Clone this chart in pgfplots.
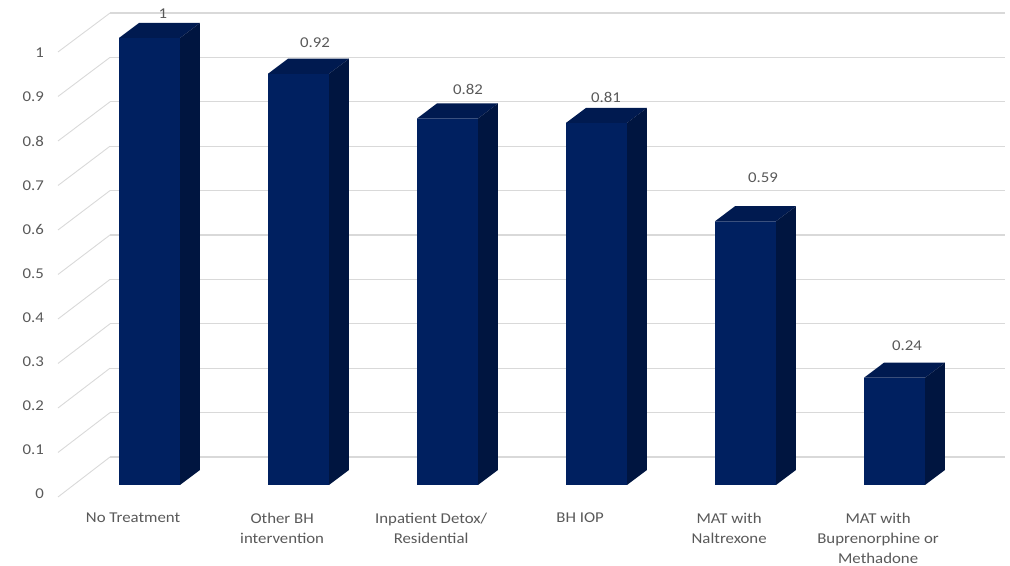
\documentclass[border=0pt]{standalone}
\usepackage{fontspec}
\setmainfont{Carlito}[FakeStretch=1.12]
\usepackage{pgfplots}
\pgfplotsset{compat=1.18}
\usepackage{pgfplotstable}
\definecolor{frontc}{HTML}{002060}
\definecolor{topc}{HTML}{001A50}
\definecolor{sidec}{HTML}{001540}
\definecolor{gridc}{HTML}{D9D9D9}
\definecolor{txtc}{HTML}{595959}

% x = category, v = value, dx/dy = label offsets (pt)
\pgfplotstableread{
x v dx dy
0 1 13.5 19
1 0.92 16.5 26
2 0.82 20.5 24
3 0.81 9.5 20
4 0.59 17.5 38
5 0.24 12.5 27
}\datatable

\begin{document}
\begin{tikzpicture}
\begin{axis}[
 width=1010pt, height=566pt, scale only axis,
 xmin=-1.00336, xmax=5.77517, ymin=-0.18121, ymax=1.08501,
 axis line style={draw=none}, major tick length=0pt,
 clip=false,
 xtick={-0.11,0.89,1.89,2.89,3.89,4.89},
 xticklabels={No Treatment, {Other BH\\intervention}, {Inpatient Detox/\\Residential}, BH IOP, {MAT with\\Naltrexone}, {MAT with\\Buprenorphine or\\Methadone}},
 xticklabel style={anchor=north, inner sep=0pt, yshift=53pt, align=center, font=\fontsize{15}{20}\selectfont, text=txtc},
 ytick={-0.0201,0.0785,0.1772,0.2759,0.3745,0.4732,0.5718,0.6705,0.7692,0.8678,0.9665},
 yticklabels={0,0.1,0.2,0.3,0.4,0.5,0.6,0.7,0.8,0.9,1},
 yticklabel style={anchor=east, inner sep=0pt, xshift=44pt, font=\fontsize{15}{18}\selectfont, text=txtc},
 /pgf/number format/assume math mode=true,
]
% diagonal side-wall lines
\addplot[gridc, line width=0.9pt] coordinates {(-0.6141,-0.0268) (-0.2651,0.0626)};
\addplot[gridc, line width=0.9pt] coordinates {(-0.6141,0.0728) (-0.2651,0.1619)};
\addplot[gridc, line width=0.9pt] coordinates {(-0.6141,0.1723) (-0.2651,0.2613)};
\addplot[gridc, line width=0.9pt] coordinates {(-0.6141,0.2719) (-0.2651,0.3606)};
\addplot[gridc, line width=0.9pt] coordinates {(-0.6141,0.3714) (-0.2651,0.4599)};
\addplot[gridc, line width=0.9pt] coordinates {(-0.6141,0.4710) (-0.2651,0.5593)};
\addplot[gridc, line width=0.9pt] coordinates {(-0.6141,0.5705) (-0.2651,0.6586)};
\addplot[gridc, line width=0.9pt] coordinates {(-0.6141,0.6701) (-0.2651,0.7579)};
\addplot[gridc, line width=0.9pt] coordinates {(-0.6141,0.7696) (-0.2651,0.8572)};
\addplot[gridc, line width=0.9pt] coordinates {(-0.6141,0.8692) (-0.2651,0.9566)};
\addplot[gridc, line width=0.9pt] coordinates {(-0.6141,0.9687) (-0.2651,1.0559)};
% back-wall gridlines
\addplot[gridc, line width=1.3pt] coordinates {(-0.2651,0.0626) (5.7416,0.0626)};
\addplot[gridc, line width=1.3pt] coordinates {(-0.2651,0.1619) (5.7416,0.1619)};
\addplot[gridc, line width=1.3pt] coordinates {(-0.2651,0.2613) (5.7416,0.2613)};
\addplot[gridc, line width=1.3pt] coordinates {(-0.2651,0.3606) (5.7416,0.3606)};
\addplot[gridc, line width=1.3pt] coordinates {(-0.2651,0.4599) (5.7416,0.4599)};
\addplot[gridc, line width=1.3pt] coordinates {(-0.2651,0.5593) (5.7416,0.5593)};
\addplot[gridc, line width=1.3pt] coordinates {(-0.2651,0.6586) (5.7416,0.6586)};
\addplot[gridc, line width=1.3pt] coordinates {(-0.2651,0.7579) (5.7416,0.7579)};
\addplot[gridc, line width=1.3pt] coordinates {(-0.2651,0.8572) (5.7416,0.8572)};
\addplot[gridc, line width=1.3pt] coordinates {(-0.2651,0.9566) (5.7416,0.9566)};
\addplot[gridc, line width=1.3pt] coordinates {(-0.2651,1.0559) (5.7416,1.0559)};
% front faces with value labels
\addplot[ybar, bar width=0.4094, fill=frontc, draw=none,
  visualization depends on={\thisrow{dx} \as \labdx},
  visualization depends on={\thisrow{dy} \as \labdy},
  nodes near coords,
  nodes near coords style={font=\fontsize{15}{18}\selectfont, text=txtc, inner sep=0pt, xshift=\labdx pt, yshift=\labdy pt}]
  table[x=x, y=v]{\datatable};
% top faces
\addplot[fill=topc, draw=none] coordinates {(-0.2047,1) (0.2047,1) (0.3387,1.0336) (-0.0707,1.0336)} -- cycle;
\addplot[fill=topc, draw=none] coordinates {(0.7953,0.92) (1.2047,0.92) (1.3387,0.9536) (0.9293,0.9536)} -- cycle;
\addplot[fill=topc, draw=none] coordinates {(1.7953,0.82) (2.2047,0.82) (2.3387,0.8536) (1.9293,0.8536)} -- cycle;
\addplot[fill=topc, draw=none] coordinates {(2.7953,0.81) (3.2047,0.81) (3.3387,0.8436) (2.9293,0.8436)} -- cycle;
\addplot[fill=topc, draw=none] coordinates {(3.7953,0.59) (4.2047,0.59) (4.3387,0.6236) (3.9293,0.6236)} -- cycle;
\addplot[fill=topc, draw=none] coordinates {(4.7953,0.24) (5.2047,0.24) (5.3387,0.2736) (4.9293,0.2736)} -- cycle;
% side faces
\addplot[fill=sidec, draw=none] coordinates {(0.2047,0) (0.3387,0.0336) (0.3387,1.0336) (0.2047,1)} -- cycle;
\addplot[fill=sidec, draw=none] coordinates {(1.2047,0) (1.3387,0.0336) (1.3387,0.9536) (1.2047,0.92)} -- cycle;
\addplot[fill=sidec, draw=none] coordinates {(2.2047,0) (2.3387,0.0336) (2.3387,0.8536) (2.2047,0.82)} -- cycle;
\addplot[fill=sidec, draw=none] coordinates {(3.2047,0) (3.3387,0.0336) (3.3387,0.8436) (3.2047,0.81)} -- cycle;
\addplot[fill=sidec, draw=none] coordinates {(4.2047,0) (4.3387,0.0336) (4.3387,0.6236) (4.2047,0.59)} -- cycle;
\addplot[fill=sidec, draw=none] coordinates {(5.2047,0) (5.3387,0.0336) (5.3387,0.2736) (5.2047,0.24)} -- cycle;
\end{axis}
\pgfresetboundingbox
\useasboundingbox (current axis.south west) rectangle (current axis.north east);
\end{tikzpicture}
\end{document}
